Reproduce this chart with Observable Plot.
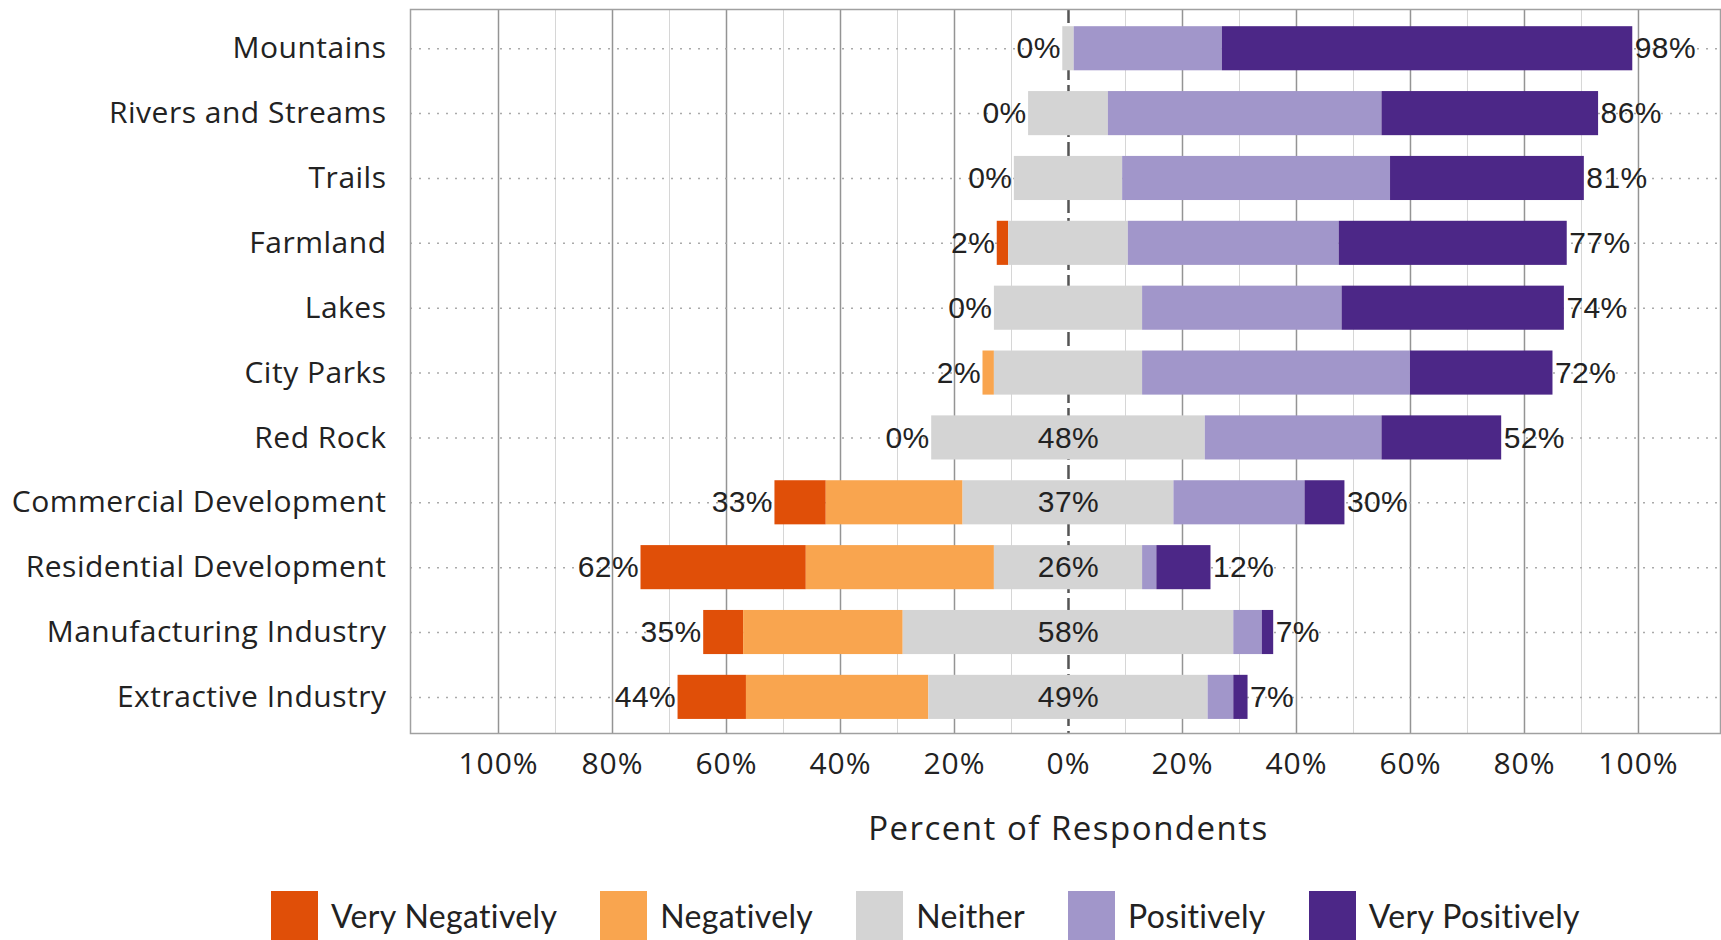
<!DOCTYPE html>
<html>
<head>
<meta charset="utf-8">
<script src="https://cdn.jsdelivr.net/npm/d3@7"></script>
<script src="https://cdn.jsdelivr.net/npm/@observablehq/plot@0.6"></script>
<style>
  html, body { margin: 0; padding: 0; background: #fff; overflow: hidden; }
  #chart svg { display: block; }
  #legend { display: flex; align-items: flex-start; padding-left: 271px; padding-top: 31px; gap: 43px; height: 80px; overflow: hidden; font-family: "Lato", "Open Sans", sans-serif; font-size: 32px; letter-spacing: 0.35px; color: #222; }
  .item { display: flex; align-items: flex-start; gap: 13px; }
  .sw { width: 47px; height: 70px; }
  .lab { margin-top: 9px; line-height: 1; }
</style>
</head>
<body>
<div id="chart"></div>
<div id="legend"></div>
<script>
const categories = ["Mountains", "Rivers and Streams", "Trails", "Farmland", "Lakes", "City Parks", "Red Rock", "Commercial Development", "Residential Development", "Manufacturing Industry", "Extractive Industry"];
const responses = ["Very Negatively", "Negatively", "Neither", "Positively", "Very Positively"];
const veryNegatively = [0, 0, 0, 2, 0, 0, 0, 9, 29, 7, 12];
const negatively     = [0, 0, 0, 0, 0, 2, 0, 24, 33, 28, 32];
const neither        = [2, 14, 19, 21, 26, 26, 48, 37, 26, 58, 49];
const positively     = [26, 48, 47, 37, 35, 47, 31, 23, 2.5, 5, 4.5];
const veryPositively = [72, 38, 34, 40, 39, 25, 21, 7, 9.5, 2, 2.5];
const negativeLabels = [0, 0, 0, 2, 0, 2, 0, 33, 62, 35, 44];
const positiveLabels = [98, 86, 81, 77, 74, 72, 52, 30, 12, 7, 7];
const neitherLabels  = [null, null, null, null, null, null, 48, 37, 26, 58, 49];
const colors = ["#e04f08", "#f9a54f", "#d4d4d4", "#a196ca", "#4c2787"];
const xTicks = [-100, -80, -60, -40, -20, 0, 20, 40, 60, 80, 100];
const majorGrid = [-100, -80, -60, -40, -20, 20, 40, 60, 80, 100];
const minorGrid = [-90, -70, -50, -30, -10, 10, 30, 50, 70, 90];

const series = [veryNegatively, negatively, neither, positively, veryPositively];
const segments = [];
const labels = [];
categories.forEach((c, i) => {
  const start = -(veryNegatively[i] + negatively[i] + neither[i] / 2);
  let x = start;
  series.forEach((arr, k) => {
    if (arr[i] > 0) segments.push({category: c, response: responses[k], x1: x, x2: x + arr[i]});
    x += arr[i];
  });
  labels.push({category: c, left: start, right: x, neg: negativeLabels[i], pos: positiveLabels[i], mid: neitherLabels[i]});
});

const labelFont = "Liberation Sans, Arial, sans-serif";

const chart = Plot.plot({
  width: 1721,
  height: 860,
  marginLeft: 410,
  marginRight: 1,
  marginTop: 9,
  marginBottom: 127,
  style: {fontFamily: "Open Sans, sans-serif", color: "#222", background: "#fff"},
  x: {domain: [-115.44, 114.39]},
  y: {domain: categories, paddingInner: 0.32, paddingOuter: 0.241, align: 0.55, round: false},
  color: {domain: responses, range: colors},
  marks: [
    Plot.ruleX(minorGrid, {stroke: "#d6d6d6", strokeWidth: 1}),
    Plot.ruleX(majorGrid, {stroke: "#949494", strokeWidth: 1.5}),
    Plot.ruleY(categories, {y: d => d, stroke: "#aaa", strokeWidth: 1.5, strokeDasharray: "2,7"}),
    Plot.ruleX([0], {stroke: "#555", strokeWidth: 2.5, strokeDasharray: "14,5"}),
    Plot.frame({stroke: "#a0a0a0", strokeWidth: 1.5}),
    Plot.barX(segments, {y: "category", x1: "x1", x2: "x2", fill: "response"}),
    Plot.text(labels, {y: "category", x: "left", text: d => d.neg + "%", textAnchor: "end", dx: -2, fontSize: 30, fontFamily: labelFont, fill: "#222"}),
    Plot.text(labels, {y: "category", x: "right", text: d => d.pos + "%", textAnchor: "start", dx: 2, fontSize: 30, fontFamily: labelFont, fill: "#222"}),
    Plot.text(labels.filter(d => d.mid != null), {y: "category", x: () => 0, text: d => d.mid + "%", fontSize: 30, fontFamily: labelFont, fill: "#222"}),
    Plot.axisY({tickSize: 0, tickPadding: 24, fontSize: 30, label: null}),
    Plot.axisX({ticks: xTicks, tickFormat: d => Math.abs(d) + "%", tickSize: 0, tickPadding: 19, fontSize: 30, label: null}),
    Plot.text([0], {x: d => d, text: () => "Percent of Respondents", frameAnchor: "bottom", dy: 96, lineAnchor: "middle", fontSize: 33, fill: "#222"})
  ]
});
document.getElementById("chart").appendChild(chart);

const svg = d3.select(chart);
svg.selectAll('g[aria-label="y-axis tick label"] text').style("letter-spacing", "0.5px");
svg.selectAll('g[aria-label="x-axis tick label"] text').style("letter-spacing", "1px");
const textGroups = svg.selectAll('g[aria-label="text"]').nodes();
textGroups.slice(0, 3).forEach(g => d3.select(g).selectAll("text").style("letter-spacing", "0.4px"));
if (textGroups[3]) d3.select(textGroups[3]).selectAll("text").style("letter-spacing", "1.5px");

const legend = d3.select("#legend");
responses.forEach((r, i) => {
  const item = legend.append("div").attr("class", "item");
  item.append("div").attr("class", "sw").style("background", colors[i]);
  item.append("div").attr("class", "lab").text(r);
});
</script>
</body>
</html>
